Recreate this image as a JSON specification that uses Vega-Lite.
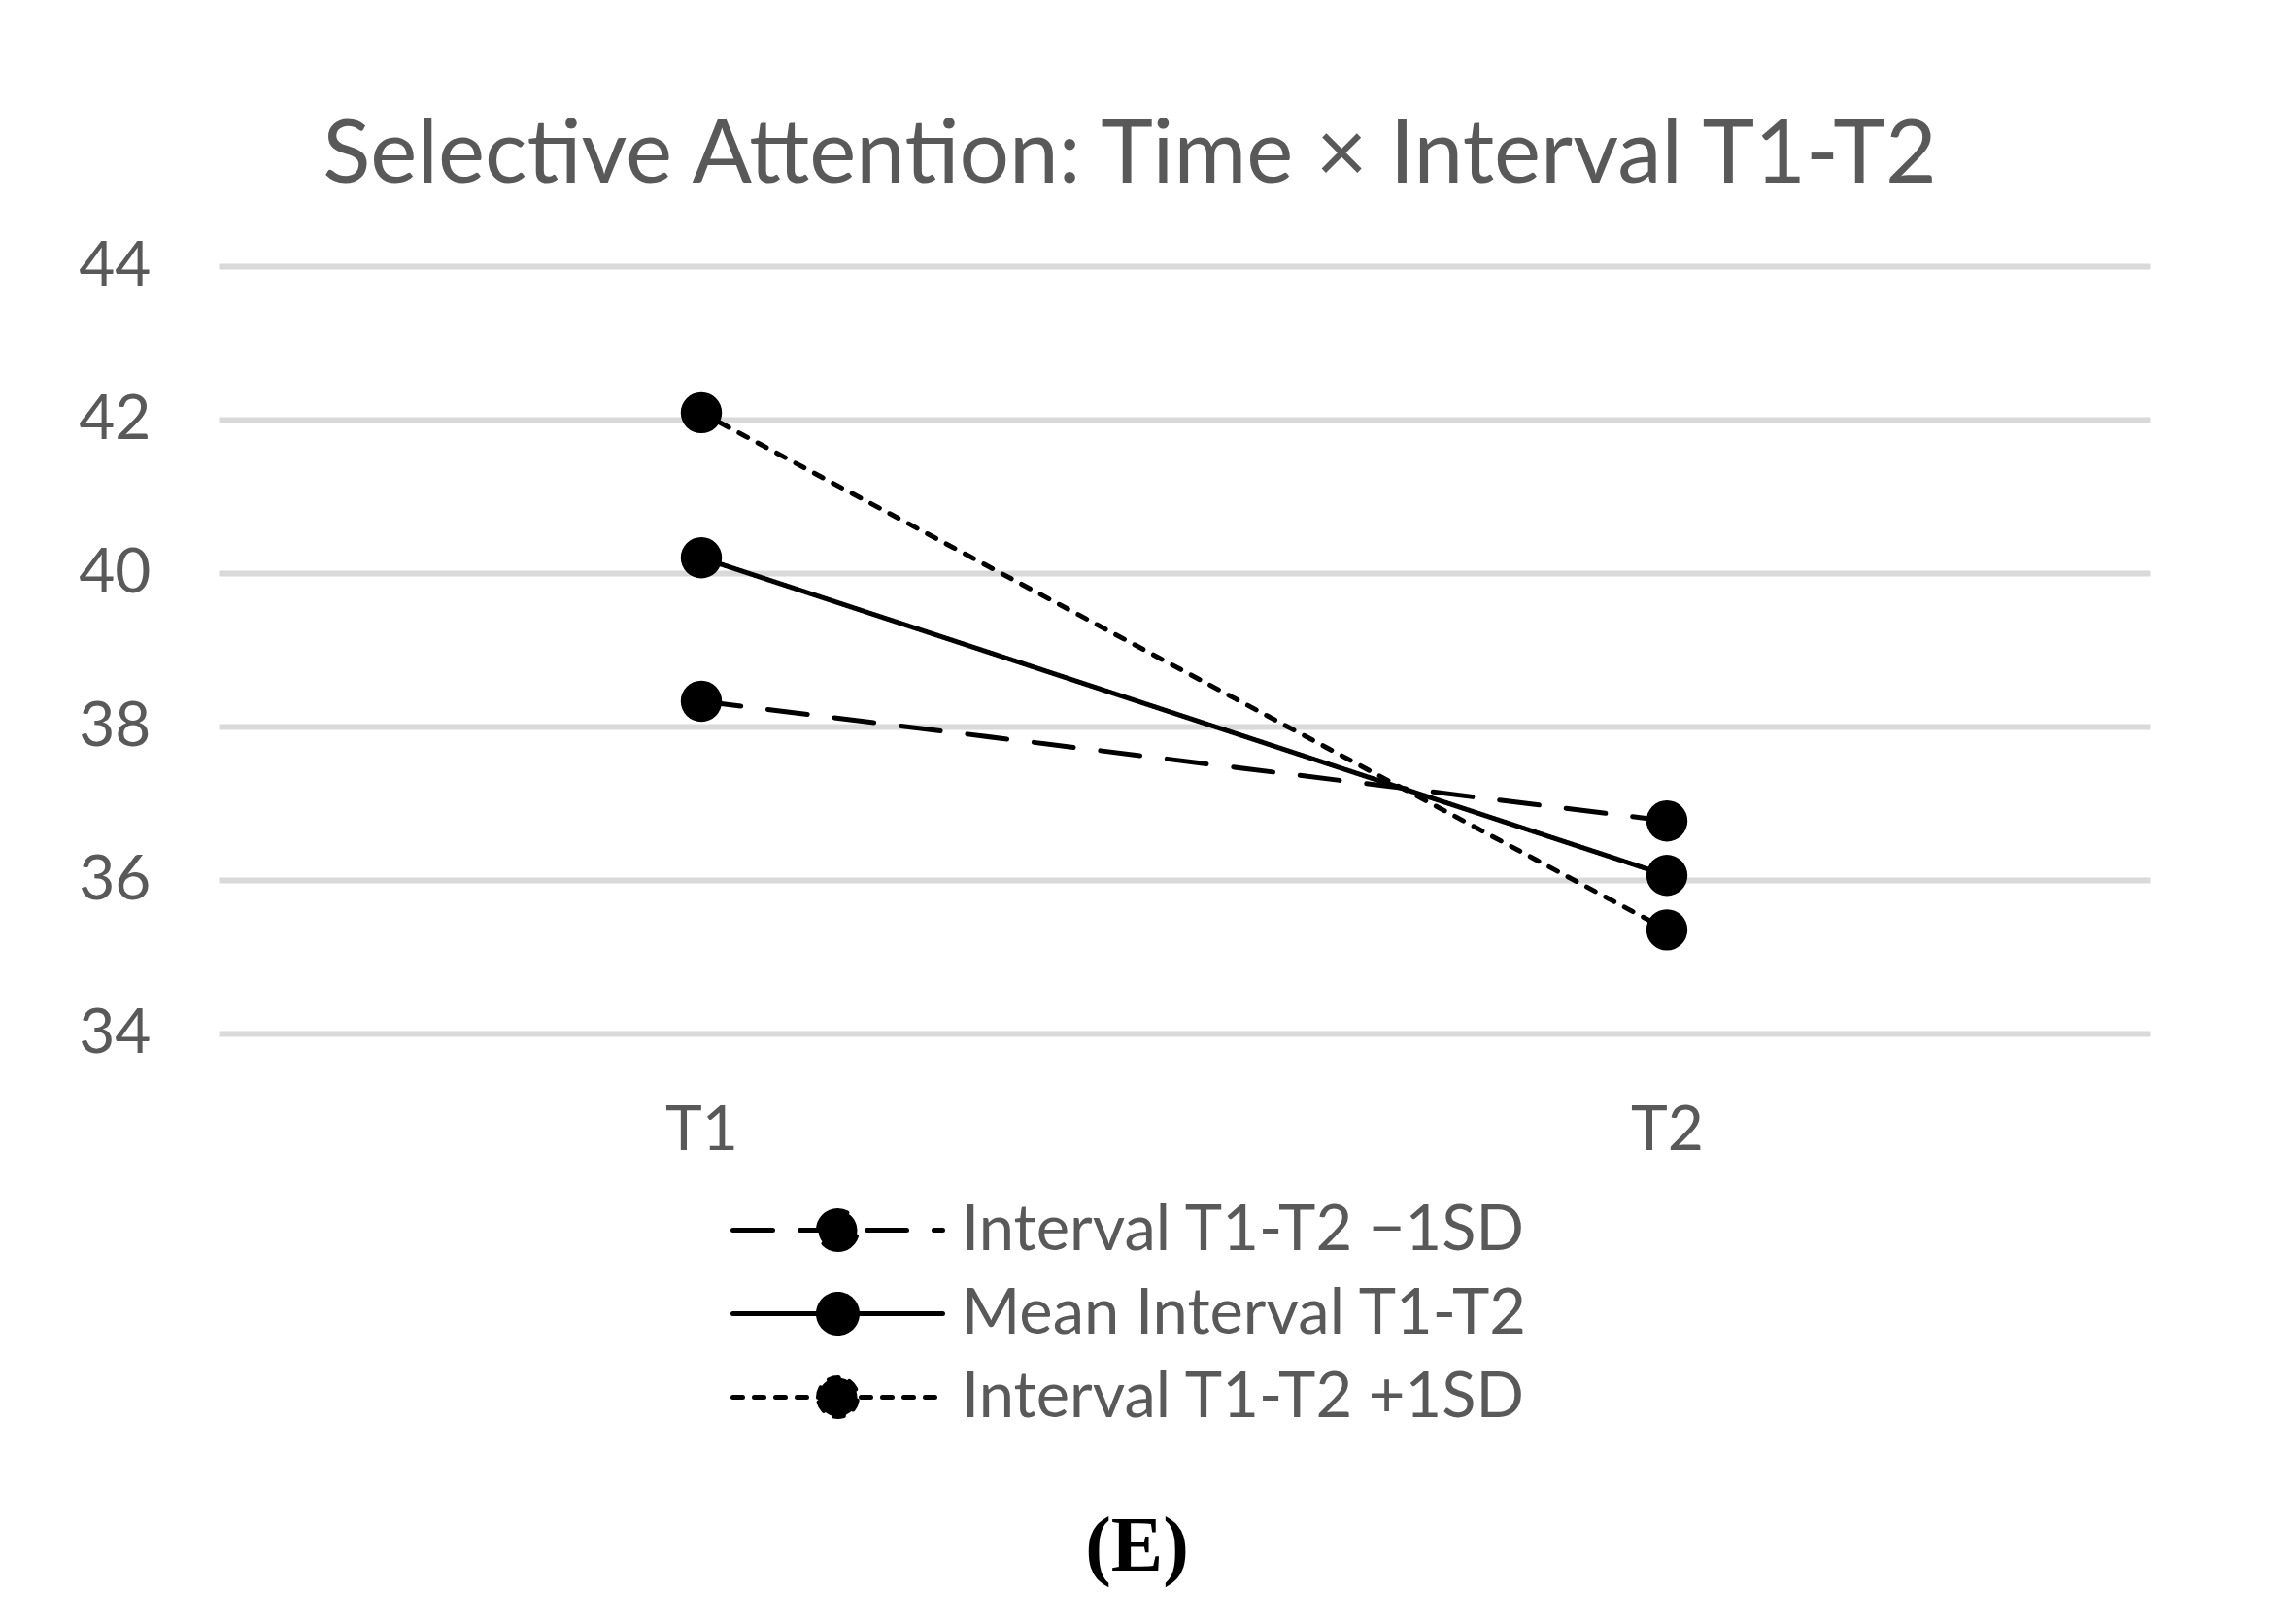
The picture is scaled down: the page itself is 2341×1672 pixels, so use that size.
{
  "$schema": "https://vega.github.io/schema/vega-lite/v6.json",
  "width": 1988,
  "height": 790,
  "autosize": "none",
  "padding": {"left": 225, "top": 274, "right": 128, "bottom": 608},
  "background": "white",
  "config": {"view": {"stroke": null}},
  "title": {
    "text": "Selective Attention: Time × Interval T1-T2",
    "font": "Lato",
    "fontSize": 91,
    "fontWeight": "normal",
    "color": "#595959",
    "anchor": "middle",
    "frame": "group",
    "dx": -56,
    "baseline": "alphabetic",
    "offset": -37
  },
  "data": {
    "values": [
      {"series": "Interval T1-T2 −1SD", "time": "T1", "value": 38.33},
      {"series": "Interval T1-T2 −1SD", "time": "T2", "value": 36.77},
      {"series": "Mean Interval T1-T2", "time": "T1", "value": 40.2},
      {"series": "Mean Interval T1-T2", "time": "T2", "value": 36.06},
      {"series": "Interval T1-T2 +1SD", "time": "T1", "value": 42.09},
      {"series": "Interval T1-T2 +1SD", "time": "T2", "value": 35.35}
    ]
  },
  "encoding": {
    "x": {
      "field": "time",
      "type": "nominal",
      "scale": {"type": "point", "padding": 0.5},
      "axis": {
        "labelAngle": 0,
        "labelFont": "Lato",
        "labelFontSize": 64,
        "labelColor": "#595959",
        "labelPadding": 68,
        "domain": false,
        "ticks": false,
        "grid": false,
        "title": "(E)",
        "titleFont": "Liberation Serif",
        "titleFontWeight": "bold",
        "titleFontSize": 80,
        "titleColor": "black",
        "titleX": 945,
        "titleY": 552,
        "titleAlign": "center",
        "titleBaseline": "alphabetic"
      }
    },
    "y": {
      "field": "value",
      "type": "quantitative",
      "scale": {"domain": [34, 44], "nice": false, "zero": false},
      "axis": {
        "values": [34, 36, 38, 40, 42, 44],
        "labelFont": "Lato",
        "labelFontSize": 64,
        "labelColor": "#595959",
        "labelPadding": 70,
        "domain": false,
        "ticks": false,
        "grid": true,
        "gridColor": "#d9d9d9",
        "gridWidth": 6,
        "title": null
      }
    }
  },
  "layer": [
    {
      "mark": {"type": "line", "color": "black", "strokeWidth": 5, "strokeCap": "round"},
      "encoding": {
        "detail": {"field": "series"},
        "strokeDash": {
          "field": "series",
          "type": "nominal",
          "scale": {
            "domain": ["Interval T1-T2 −1SD", "Mean Interval T1-T2", "Interval T1-T2 +1SD"],
            "range": [[41, 28], [1, 0], [10, 12]]
          },
          "legend": {
            "orient": "none",
            "legendX": 605,
            "legendY": 960,
            "direction": "vertical",
            "title": null,
            "padding": 0,
            "symbolType": "M-5.4,0L5.4,0M-1,0A1,1,0,1,1,1,0A1,1,0,1,1,-1,0Z",
            "symbolSize": 1600,
            "symbolStrokeWidth": 5,
            "symbolStrokeColor": "black",
            "symbolFillColor": "black",
            "labelFont": "Lato",
            "labelFontSize": 65,
            "labelColor": "#595959",
            "labelOffset": 95,
            "labelLimit": 1200,
            "rowPadding": 20,
            "encode": {
              "symbols": {"update": {"fill": {"value": "black"}, "stroke": {"value": "black"}, "strokeCap": {"value": "round"}}}
            }
          }
        }
      }
    },
    {
      "mark": {"type": "point", "filled": true, "shape": "circle", "color": "black", "size": 1800, "opacity": 1},
      "encoding": {}
    }
  ]
}
